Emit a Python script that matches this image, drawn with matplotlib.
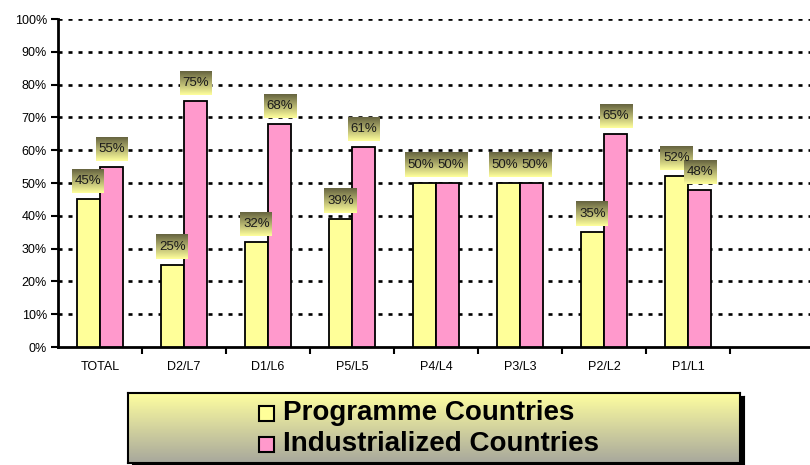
import numpy as np
import matplotlib
matplotlib.use("Agg")
import matplotlib.pyplot as plt
from matplotlib.patches import Rectangle

categories = ["TOTAL", "D2/L7", "D1/L6", "P5/L5", "P4/L4", "P3/L3", "P2/L2", "P1/L1"]
programme = [45, 25, 32, 39, 50, 50, 35, 52]
industrialized = [55, 75, 68, 61, 50, 50, 65, 48]
series_names = ["Programme Countries", "Industrialized Countries"]
colors = ["#ffff99", "#ff99cc"]

plt.rcParams["font.family"] = ["Liberation Sans", "DejaVu Sans"]
plt.rcParams["lines.scale_dashes"] = False

W, H = 810, 465
fig = plt.figure(figsize=(W / 100, H / 100), dpi=100)

# plot area in pixels: left 58, zero line at y=347, 100% at y=19
pitch = 84.0
ax_left, ax_bottom, ax_top = 58, 347, 19
ax = fig.add_axes([ax_left / W, (H - ax_bottom) / H, (W - ax_left) / W, (ax_bottom - ax_top) / H])
ax.set_facecolor("white")

x = np.arange(len(categories))
bw = 0.275
ax.bar(x - bw / 2, programme, bw, color=colors[0], edgecolor="black", linewidth=1.3, zorder=3)
ax.bar(x + bw / 2, industrialized, bw, color=colors[1], edgecolor="black", linewidth=1.3, zorder=3)

# dashed gridlines
for y in range(10, 101, 10):
    ax.axhline(y, color="black", lw=1.9, ls=(0, (2.9, 4.3)), zorder=1)

# gradient value labels
grad = np.linspace(0, 1, 50)[:, None, None]
top_c = np.array([0x66, 0x64, 0x40]) / 255
bot_c = np.array([0xff, 0xff, 0x9c]) / 255
grad_img = top_c * (1 - grad) + bot_c * grad
box_w = 32 / pitch
box_h = 24 / 3.28
gap = 6 / 3.28
for k, (vals, off) in enumerate(((programme, -bw / 2), (industrialized, bw / 2))):
    other = industrialized if k == 0 else programme
    for i, v in enumerate(vals):
        cx = i + off
        # push side-by-side labels apart a little when they sit at the same height
        if abs(v - other[i]) < 3.5:
            cx += (-1 if k == 0 else 1) * 3.5 / pitch
        y0 = v + gap
        ax.imshow(grad_img, extent=[cx - box_w / 2, cx + box_w / 2, y0, y0 + box_h],
                  aspect="auto", zorder=5, interpolation="bilinear")
        ax.text(cx, y0 + box_h / 2, f"{v}%", ha="center", va="center", fontsize=9.5,
                color="#1a1a1a", zorder=6)

ax.set_xlim(-0.5, -0.5 + (W - ax_left) / pitch)
ax.set_ylim(0, 100)

ax.set_yticks(range(0, 101, 10))
ax.set_yticklabels([f"{v}%" for v in range(0, 101, 10)], fontsize=9)
ax.set_xticks(x)
ax.set_xticklabels(categories, fontsize=9)
ax.set_xticks(np.arange(0.5, 8.5, 1), minor=True)
ax.tick_params(axis="x", which="major", length=0, pad=10)
ax.tick_params(axis="x", which="minor", length=5, width=1.5, direction="out")
ax.tick_params(axis="y", length=5, width=1.5, direction="out", pad=3)

for s in ("top", "right"):
    ax.spines[s].set_visible(False)
ax.spines["left"].set_linewidth(2)
ax.spines["bottom"].set_linewidth(2)

# legend box with gradient and shadow
lx0, ly0, lx1, ly1 = 128, 393, 740, 463
shadow = fig.add_axes([(lx0 + 4) / W, (H - ly1 - 3) / H, (lx1 - lx0) / W, (ly1 - ly0) / H])
shadow.set_facecolor("black")
shadow.set_xticks([])
shadow.set_yticks([])
leg = fig.add_axes([lx0 / W, (H - ly1) / H, (lx1 - lx0) / W, (ly1 - ly0) / H])
lg_top = np.array([0xff, 0xff, 0xa0]) / 255
lg_bot = np.array([0xa8, 0xa8, 0x9c]) / 255
leg.imshow(lg_top * (1 - grad) + lg_bot * grad, extent=[0, 1, 0, 1], aspect="auto")
leg.set_xlim(0, 1)
leg.set_ylim(0, 1)
leg.set_xticks([])
leg.set_yticks([])
for s in leg.spines.values():
    s.set_linewidth(1.5)

lw_px = lx1 - lx0
lh_px = ly1 - ly0
for k, name in enumerate(series_names):
    yc = 1 - (20 + 31 * k) / lh_px
    sq = 15
    leg.add_patch(Rectangle(((259 - lx0) / lw_px, yc - sq / 2 / lh_px), sq / lw_px, sq / lh_px,
                            facecolor=colors[k], edgecolor="black", lw=1.5))
    leg.text((283 - lx0) / lw_px, yc, name, ha="left", va="center", fontsize=20,
             fontweight="bold", color="black")

fig.savefig("out.png", dpi=100)
